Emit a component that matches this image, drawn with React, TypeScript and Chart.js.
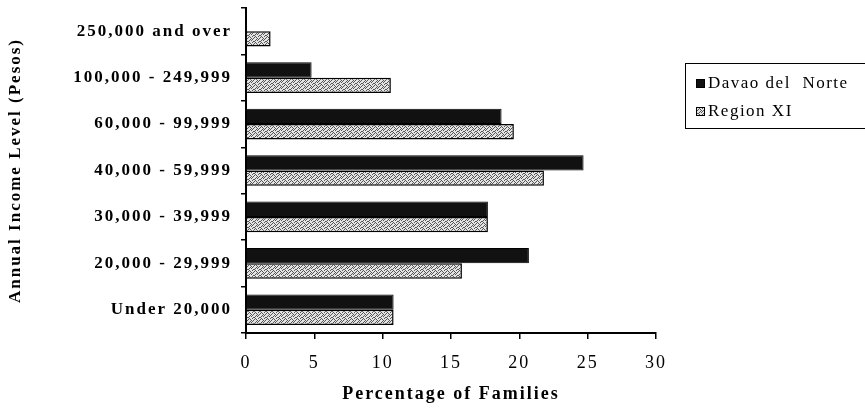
import React, { useEffect, useRef } from "react";
import { Chart, registerables } from "chart.js";

Chart.register(...registerables);

const categories = [
  "250,000 and over",
  "100,000 - 249,999",
  "60,000 - 99,999",
  "40,000 - 59,999",
  "30,000 - 39,999",
  "20,000 - 29,999",
  "Under 20,000",
];
const seriesNames = ["Davao del  Norte", "Region XI"];
const davaoDelNorte = [0, 4.8, 18.7, 24.7, 17.7, 20.7, 10.8];
const regionXI = [1.8, 10.6, 19.6, 21.8, 17.7, 15.8, 10.8];
const xAxisTitle = "Percentage of Families";
const yAxisTitle = "Annual Income Level (Pesos)";

const FONT = "'Liberation Serif', 'Times New Roman', serif";
const DARK = "#111111";

// fixed speckle texture for the light series (1 = dark dot)
const SPECKLE = [
  "100100",
  "001010",
  "010001",
  "100010",
  "000101",
  "011000",
];

function makePattern(): CanvasPattern | string {
  const c = document.createElement("canvas");
  c.width = SPECKLE[0].length;
  c.height = SPECKLE.length;
  const g = c.getContext("2d");
  if (!g) return "#bdbdbd";
  g.fillStyle = "#e4e4e4";
  g.fillRect(0, 0, c.width, c.height);
  g.fillStyle = "#555555";
  SPECKLE.forEach((row, y) => {
    for (let x = 0; x < row.length; x++) if (row[x] === "1") g.fillRect(x, y, 1, 1);
  });
  return g.createPattern(c, "repeat") || "#bdbdbd";
}

const spacing = {
  id: "spacing",
  beforeLayout(chart: any) {
    (chart.ctx as any).letterSpacing = "2px";
  },
  beforeDraw(chart: any) {
    (chart.ctx as any).letterSpacing = "2px";
  },
};

const legendBox = {
  id: "legendBox",
  afterDraw(chart: any) {
    const ctx = chart.ctx as CanvasRenderingContext2D;
    const { right, top } = chart.chartArea;
    const x = Math.round(right + 29);
    const y = Math.round(top + 55);
    const w = 200;
    const h = 65;
    ctx.save();
    (ctx as any).letterSpacing = "1.5px";
    ctx.strokeStyle = "#000";
    ctx.lineWidth = 1;
    ctx.strokeRect(x + 0.5, y + 0.5, w, h);
    ctx.font = `17px ${FONT}`;
    ctx.textBaseline = "middle";
    chart.data.datasets.forEach((ds: any, i: number) => {
      const iy = y + 20 + i * 28;
      ctx.fillStyle = ds.backgroundColor;
      ctx.fillRect(x + 11, iy - 4, 9, 9);
      ctx.strokeStyle = "#000";
      ctx.strokeRect(x + 11.5, iy - 3.5, 8, 8);
      ctx.fillStyle = "#000";
      ctx.fillText(ds.label, x + 23, iy + 1);
    });
    ctx.restore();
  },
};

export default function App() {
  const ref = useRef<HTMLCanvasElement>(null);
  useEffect(() => {
    document.body.style.margin = "0";
    const light = makePattern();
    const chart = new Chart(ref.current as HTMLCanvasElement, {
      type: "bar",
      data: {
        labels: categories,
        datasets: [
          {
            label: seriesNames[0],
            data: davaoDelNorte,
            backgroundColor: DARK,
            borderColor: "#000",
            borderWidth: 1,
            categoryPercentage: 0.66,
            barPercentage: 1,
          },
          {
            label: seriesNames[1],
            data: regionXI,
            backgroundColor: light,
            borderColor: "#000",
            borderWidth: 1.5,
            categoryPercentage: 0.66,
            barPercentage: 1,
          },
        ],
      },
      options: {
        indexAxis: "y",
        animation: false,
        responsive: true,
        maintainAspectRatio: false,
        layout: { padding: { left: 0, right: 209, top: 8, bottom: 0 } },
        plugins: {
          legend: { display: false },
          tooltip: { enabled: false },
        },
        scales: {
          x: {
            min: 0,
            max: 30,
            afterFit(scale: any) {
              scale.height = 75;
            },
            ticks: { stepSize: 5, color: "#000", font: { family: FONT, size: 18 }, padding: 13 },
            grid: { display: true, drawOnChartArea: false, drawTicks: true, tickLength: 6, color: "#000", lineWidth: 1.5 },
            border: { display: true, color: "#000", width: 2 },
            title: { display: true, text: xAxisTitle, color: "#000", font: { family: FONT, size: 18, weight: "bold" }, padding: { top: 10, bottom: 3 } },
          },
          y: {
            afterFit(scale: any) {
              scale.width = 246;
              scale.paddingTop = 0;
              scale.paddingBottom = 0;
            },
            ticks: { color: "#000", font: { family: FONT, size: 17, weight: "bold" }, padding: 9 },
            grid: { display: true, drawOnChartArea: false, drawTicks: true, tickLength: 5, color: "#000", lineWidth: 1.5 },
            border: { display: true, color: "#000", width: 2 },
            title: { display: true, text: yAxisTitle, color: "#000", font: { family: FONT, size: 17, weight: "bold" }, padding: { top: 5, bottom: 0 } },
          },
        },
      },
      plugins: [spacing, legendBox],
    } as any);
    return () => chart.destroy();
  }, []);
  return (
    <div style={{ position: "fixed", left: 0, top: 0, width: 865, height: 408, background: "#fff" }}>
      <canvas ref={ref} />
    </div>
  );
}
